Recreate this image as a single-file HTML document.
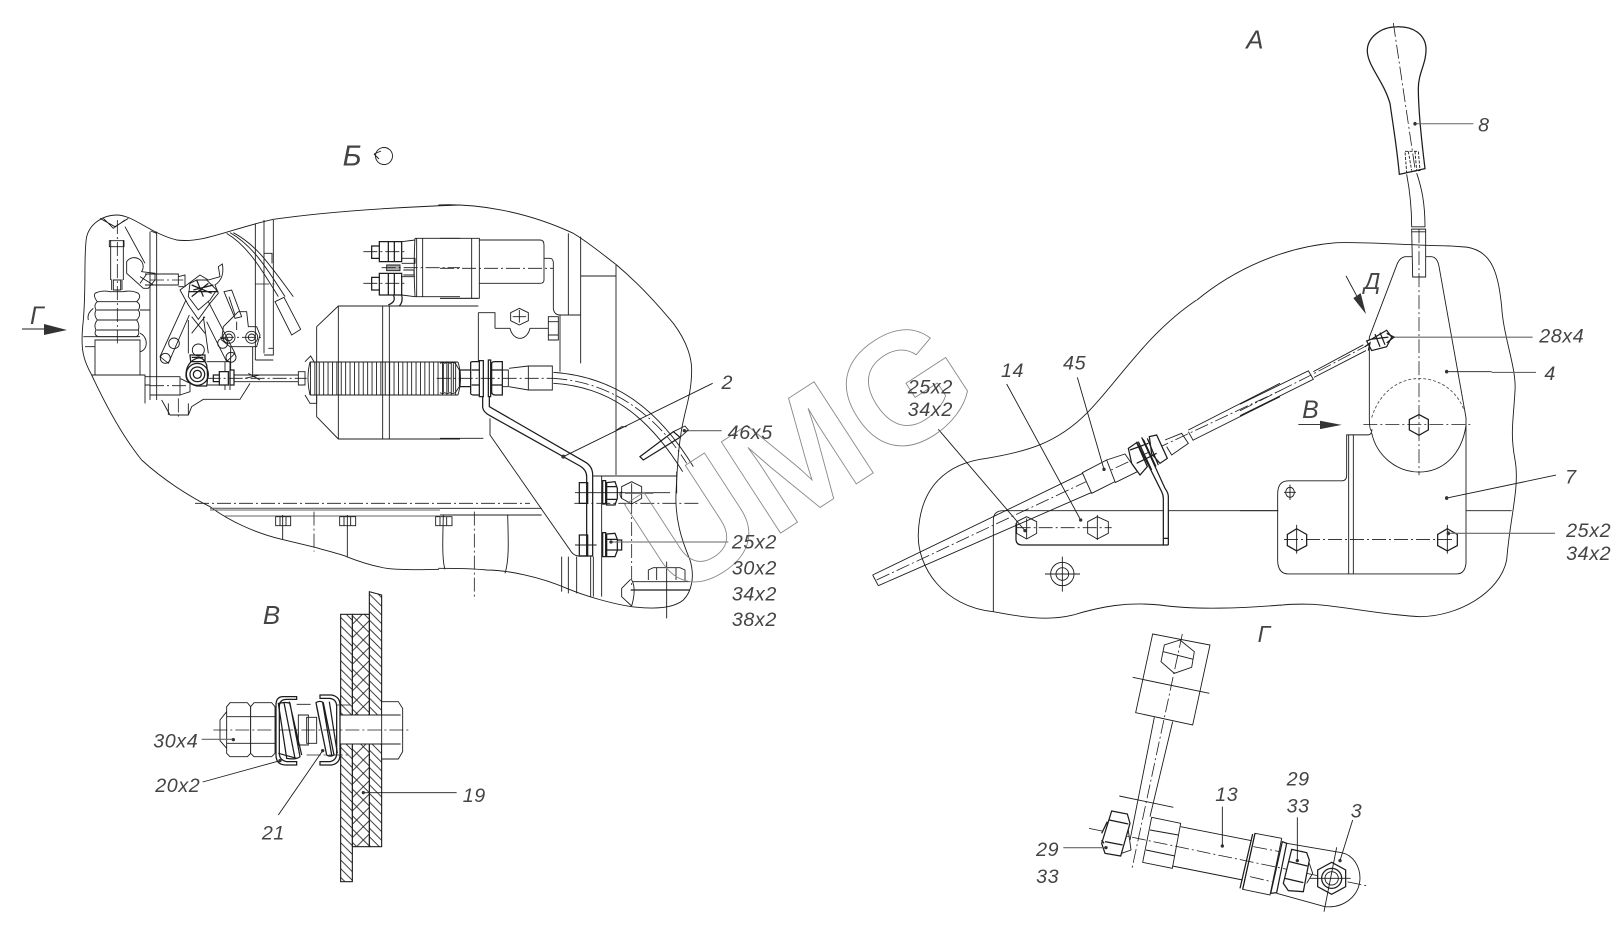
<!DOCTYPE html>
<html><head><meta charset="utf-8"><style>
html,body{margin:0;padding:0;background:#fff}
svg{display:block}
.z *{vector-effect:non-scaling-stroke}
.z{fill:none;stroke:#1c1c1c;stroke-width:.9}
.w{fill:#fff}
.d{stroke-dasharray:14 3 2 3;stroke-width:.8}
.g{stroke:#666;stroke-width:1.1}
.t{stroke-width:1.25}
.dot{fill:#333;stroke:none}
text{font-family:"Liberation Sans",sans-serif;font-style:italic;fill:#444;font-size:19px;letter-spacing:.6px}
.wm{font-family:"Liberation Sans",sans-serif;font-style:normal;font-weight:bold;font-size:158px;fill:none;stroke:#888;stroke-width:.9;letter-spacing:0}
</style></head><body>
<svg width="1623" height="930" viewBox="0 0 1623 930" xmlns="http://www.w3.org/2000/svg">
<defs>
<pattern id="h1" patternUnits="userSpaceOnUse" width="26" height="26"><path d="M-2,-2L28,28M-28,-2L2,28M24,-2L54,28" stroke="#222" stroke-width="2.6" fill="none"/></pattern>
<pattern id="h2" patternUnits="userSpaceOnUse" width="40" height="40"><path d="M-1,-1L41,41M41,-1L-1,41" stroke="#222" stroke-width="2.6" fill="none"/></pattern>
</defs>

<!-- LEFT VIEW, left part -->
<g class="z" transform="translate(60,120) scale(.33333)">
<path d="M245,1020C180,940 130,840 95,765C70,720 62,690 68,620C80,520 70,400 80,350C90,310 130,285 170,285C220,285 270,340 350,360C430,370 500,330 640,298C800,275 1000,262 1200,255"/>
<path d="M270,335V840M290,335V840M272,333L290,340M586,310V720M612,300V700M640,300V700M586,720H640M612,400H636V430M625,685H640V705H612"/>
<path d="M120,295L165,320L205,295M130,295L160,325L195,300M195,320L255,430"/>
<path d="M152,360V480M190,360V480M148,362H192V380H148ZM155,478V510M186,478V510M160,480H182V510H160Z"/>
<path class="d" d="M172,300V670"/>
<path d="M105,520Q125,510 150,515H190Q215,510 235,520Q245,530 230,545Q245,555 235,570Q245,585 230,600Q240,615 235,630Q240,645 228,650H115Q100,645 108,630Q100,615 112,600Q100,585 108,570Q100,555 112,545Q100,530 105,520Z"/>
<path d="M112,545H230M110,570H235M112,600H230M110,630H235M105,650H240"/>
<path d="M105,660H240V765H105ZM240,640C265,650 265,690 240,695M100,565Q80,580 85,600M70,650H105M75,680H105M240,570H270"/>
<path d="M95,765H255V850M255,770H360V825H270M360,775L390,790V815L360,825M255,795H270M255,805V820M305,840L330,885H385L395,860L430,838H540L570,790"/>
<path d="M325,885V850M385,885V850"/>
<path class="d" d="M355,835V890M270,797H380M270,480H370"/>
<path d="M200,425A24,24 0 1 1 245,455L285,460V480L265,505H250L200,460ZM240,470L280,495M260,462L240,490"/>
<path d="M255,462H355V495H255M355,470L375,465V500H355"/>
<path d="M500,340C560,375 600,440 655,530M510,338C575,375 615,435 675,530M520,338C590,375 630,435 700,530"/>
<path class="w" d="M645,545L672,532L722,628L695,645Z"/>
<path class="d" d="M586,492H650"/>
<path d="M360,510L420,465L445,480L480,470L475,440L487,432Q495,475 465,495L475,520L450,550L415,598L385,555Z"/>
<path d="M390,490L410,480H440L470,510L450,540L415,570L385,530Z"/>
<path d="M395,495L455,520M400,510L460,495M410,480L430,530M385,515L475,515M395,530L445,490" class="t"/>
<path d="M378,540L300,710L325,730L388,585M445,545L525,700L500,725L440,605"/>
<path d="M385,600V700M430,590L445,700M395,590L435,640M435,590L395,640"/>
<circle cx="342" cy="670" r="16"/><circle cx="316" cy="715" r="15"/><circle cx="513" cy="712" r="15"/><circle cx="488" cy="670" r="15"/><circle cx="415" cy="690" r="18"/>
<path d="M492,515L515,510L545,590L525,595ZM507,530L525,585"/>
<path d="M490,620L510,600L535,575H560L565,620H590L600,645L590,680H510L485,660ZM530,605V630"/>
<circle cx="507" cy="652" r="18"/><circle cx="507" cy="652" r="10"/><circle cx="575" cy="652" r="18"/><circle cx="575" cy="652" r="10"/>
<path class="d" d="M480,652H610"/>
<path d="M512,680V770M578,680V770M565,760L600,780M555,775L600,765"/>
<path class="w t" d="M400,720Q378,735 378,765Q378,790 410,798H440Q445,770 440,735Q430,708 410,715Z"/>
<circle cx="412" cy="763" r="33" class="t"/><circle cx="412" cy="763" r="22" class="t"/><circle cx="412" cy="763" r="12" class="t"/>
<path d="M390,705H435V725H392ZM395,712H430" class="t"/>
<path d="M440,725H510V810M495,725V810M440,795H490"/>
<path class="w t" d="M460,765H478V785H460ZM478,755H505V795H478ZM510,750H522V795H510Z"/>
<path d="M522,765H715M522,785H715M715,755H735V795H715Z"/>
<path class="d" d="M440,775H740"/>
<path d="M735,725L752,708L762,725M735,825L750,850H770V825"/>
<path d="M770,620L835,558H1200M770,620V890L835,957H1200M835,558V957M968,558V957M988,558V957"/>
<path class="t" d="M1000,525Q1010,545 985,555M1025,525Q1030,545 1018,558"/>
<path d="M1065,355H1200M1065,530H1200M1070,355V530M1088,355V530M1065,355Q1060,440 1065,530"/>
<path class="t" d="M958,365H1025V425H958ZM935,378H958V415H935ZM985,365V425M1003,365V425M958,460H1025V525H958ZM935,472H958V510H935ZM985,460V525M1003,460V525"/>
<path d="M1025,365L1065,360M1025,525L1065,530M1025,415H1065V430H1025M1025,470H1065M1030,450H1062V465H1030"/>
<path class="w" style="fill:#aaa" d="M980,435H1020V452H980Z"/>
<path class="d" d="M965,443H1200M910,395H1035M910,490H1035"/>
</g>
<!-- Spring -->
<g class="z">
<path d="M310,378H458" style="stroke-width:33;stroke-dasharray:.9 3.5;stroke:#222"/>
<path d="M310,362H458M310,395H458M310,362Q306,378 310,395M458,362Q463,378 458,395"/>
</g>

<!-- LEFT VIEW, right part -->
<g class="z" transform="translate(440,200) scale(.33333)">
<path d="M-5,15C100,10 250,30 400,100C450,130 490,165 530,195C600,255 650,310 700,370C745,430 755,480 755,510C755,560 745,600 735,640C715,720 712,800 708,880C705,960 725,1020 750,1080C765,1130 755,1175 730,1200C700,1225 640,1228 575,1220C520,1212 440,1190 380,1165C300,1130 200,1110 140,1110C90,1105 30,1105 -5,1105"/>
<path d="M0,115H95V295H0M95,115H118V295H95M118,120H300Q312,120 312,135V240Q312,250 300,250H118"/>
<path class="d" d="M0,205H340"/>
<path d="M312,175H330Q340,175 340,190V325Q342,345 360,345V515M360,345H422M385,100V345M422,110V490M422,228H527M528,195V825M0,295H115M0,318H115M115,338H165V385M115,338V485M165,385H210C220,425 260,425 270,385H325M0,715H130"/>
<path d="M238,325L265,338V362L238,375L212,362V338ZM238,330V368M218,350H258"/>
<path d="M325,350H355V420H325ZM325,365H355M325,405H355"/>
<path class="t" d="M60,510H92V560H60ZM92,490Q90,485 100,485H118V585H100Q90,585 92,575ZM95,510H118M95,555H118M118,482H130V590H118ZM145,480H152V590H145ZM155,490Q155,485 165,485H187V585H165Q155,585 155,575ZM155,510H187M155,555H187"/>
<path d="M187,510H205V560H187M207,505L265,498H337V570H265L207,560M265,498V570"/>
<path d="M0,490Q8,485 14,490Q22,485 30,490Q38,485 46,490L58,510V560L46,578Q38,583 30,578Q22,583 14,578Q8,583 0,578"/>
<path d="M10,490V578M25,490V578M40,490V578"/>
<path class="d" d="M-10,535H340"/>
<path d="M340,517C520,530 650,620 760,800M340,550C500,560 620,640 728,815"/>
<path class="d" d="M340,535C500,545 640,630 740,790"/>
<path class="t" d="M128,590V622Q130,637 150,647L420,798Q440,810 440,830V1068H415M148,590V620L437,787Q458,800 458,825V1068H440"/>
<path d="M150,655V705L390,1050Q400,1067 415,1068"/>
<path d="M370,770L818,550M530,690L545,680H560"/>
<circle class="dot" cx="370" cy="770" r="6"/>
<path class="g" d="M735,692H845"/>
<circle class="dot" cx="733" cy="692" r="5"/>
<path class="t" d="M600,770L700,695L720,712L610,780Z"/>
<path d="M700,695L735,678L745,690L720,712"/>
<path d="M460,828H710M485,828V1190M710,815V880M0,925H305M0,945H305"/>
<path class="d" d="M403,910H780M575,900V1160"/>
<path class="t" d="M418,848H443V910H418ZM488,842H497V912H488ZM500,848L525,845L532,865V895L525,915H500ZM500,860H530M500,898H530"/>
<path d="M575,845L605,860V895L575,912L545,895V860ZM405,878H690M575,850V910M545,875Q535,880 545,895"/>
<path class="t" d="M418,1005H443V1068H418ZM488,998H497V1070H488ZM500,1002L525,1000L532,1018V1052L525,1070H500ZM500,1018H530M500,1050H530M532,1020H545V1050H532"/>
<path d="M405,1035H470"/>
<path class="g" d="M510,1026H865"/>
<circle class="dot" cx="513" cy="1026" r="5"/>
<path d="M365,1070V1175M385,1070V1180M410,1070V1180M452,1070V1190M460,1070V1190"/>
<path d="M625,1140V1110L640,1103H720L735,1110V1140M650,1103V1140M708,1103V1140M680,1085V1255"/>
<path d="M572,1138L545,1165V1190L575,1218M578,1145H750"/>
<path class="t" d="M572,1170H750"/>
<path d="M575,1140Q590,1165 575,1218"/>
<path d="M640,880L555,880" class="g"/>
</g>

<!-- Lower band of left view -->
<g class="z" transform="translate(130,440) scale(.33333)">
<path d="M35,60C100,120 180,170 240,200C300,245 380,280 455,298L555,322C600,335 640,345 650,350C700,370 740,380 770,385C810,390 860,390 927,388"/>
<path class="d" d="M195,190H1200"/>
<path class="g" d="M240,205H930M240,210H930M285,228H930"/>
<path d="M437,230H482V257H437ZM450,230V257M468,230V257M629,230H677V257H629ZM642,230V257M662,230V257M917,230H966V257H917ZM930,230V257M950,230V257"/>
<path d="M458,225V298M652,225V350M940,225C938,300 936,360 945,388M1133,225C1135,300 1138,360 1125,400"/>
<path class="d" d="M552,215V335M1033,215V474"/>
</g>

<!-- Section В -->
<g class="z" transform="translate(130,580) scale(.33333)">
<path style="fill:url(#h1)" d="M632,103H667V905H632Z"/>
<path style="fill:url(#h2)" d="M667,103H718V800H667Z"/>
<path style="fill:url(#h1)" d="M718,35L755,45V800H718Z"/>
<path d="M632,103H718V35L755,45V800H667V905H632Z M667,103V800M718,103V800"/>
<path class="w" d="M625,405H757V492H625Z"/>
<path class="w" d="M755,365H805L818,385V515L805,537H755ZM755,405H812M755,492H812"/>
<path class="w" d="M505,405H535V495H505ZM530,412H560V490H530Z"/>
<path class="w" d="M290,380L300,368H352L362,380V520L352,530H300L290,520ZM290,410H362M290,490H362"/>
<path class="w" d="M362,380L372,368H425L435,380V520L425,530H372L362,520ZM362,410H435M362,490H435"/>
<path d="M290,395L270,420V482L290,505"/>
<path class="w t" d="M500,350H460Q438,350 438,375V525Q438,555 468,555H500V545H470Q448,540 448,520V380Q448,358 470,358H500Z"/>
<path class="t" d="M445,370Q470,365 480,370L510,530Q500,540 470,535ZM462,368L495,535M478,365L515,525M445,520L500,535"/>
<path class="w t" d="M570,345H605Q630,350 630,375V525Q630,550 605,555H570V545H600Q620,540 620,520V380Q620,358 600,355H570Z"/>
<path class="t" d="M558,368Q570,360 580,368L612,525Q600,532 590,525ZM578,368L605,525M598,365L622,520M560,380L590,525"/>
<path class="d" d="M250,450H840M500,373H550M530,525H660M620,375H660"/>
<path class="g" d="M215,478H310"/>
<circle class="dot" cx="310" cy="479" r="5"/>
<path d="M218,606L450,542M445,705L578,512"/>
<circle class="dot" cx="450" cy="542" r="5"/><circle class="dot" cx="578" cy="512" r="5"/>
<path d="M700,638H980"/><circle class="dot" cx="700" cy="638" r="5"/>
</g>

<!-- View Г -->
<g class="z" transform="translate(1020,610) scale(.33333)">
<path d="M398,72L570,105L518,345L347,308Z"/>
<path d="M480,90L523,125L515,172L463,190L423,155L433,105ZM430,125L520,148"/>
<path class="d" d="M487,72L335,780"/>
<path d="M338,202L568,250M403,322L330,690M458,335L390,620M298,558L460,592"/>
<path class="d" d="M207,655L1043,828"/>
<path d="M395,622L482,640L457,775L368,757ZM390,660L475,675M378,720L465,738"/>
<path d="M482,650L695,692M457,768L668,810"/>
<path d="M320,625L333,720L305,730"/>
<path class="w t" d="M275,603L322,612L330,640L302,738L255,730L245,700ZM268,630L325,642M255,695L308,705M245,670L262,635M245,690L252,700"/>
<path class="t" d="M705,670L668,838M698,672L660,835"/>
<path d="M705,670L785,685L750,855L668,838Z"/>
<path class="t" d="M787,695L800,700L770,848L752,850Z"/>
<path d="M800,700L965,728C1000,735 1020,770 1020,805C1018,860 970,895 915,890L770,850"/>
<path class="d" d="M700,710L780,725M690,800L755,815"/>
<path class="w t" d="M815,718L860,728L868,750L850,845L805,842L790,820ZM808,755L862,768M795,805L850,818"/>
<path d="M868,760L878,790L860,820"/>
<path class="w t" d="M935,757L977,780V830L935,853L893,830V780Z"/>
<circle class="t" cx="935" cy="805" r="30"/><circle cx="935" cy="805" r="20"/>
<path d="M870,805H992M950,712L912,905"/>
<path class="g" d="M130,713H255"/>
<circle class="dot" cx="258" cy="713" r="5"/><circle class="dot" cx="607" cy="708" r="5"/><circle class="dot" cx="832" cy="752" r="5"/><circle class="dot" cx="960" cy="752" r="5"/>
<path d="M607,590V708M832,622V752M998,630L960,752"/>
</g>

<!-- Right figure, lower left -->
<g class="z" transform="translate(860,300) scale(.33333)">
<path d="M400,935C250,920 170,800 175,700C180,560 260,490 380,475C500,455 590,430 680,340C770,250 860,100 1010,0"/>
<path d="M400,935C480,950 560,965 640,945C720,920 800,905 900,915C1000,930 1150,925 1262,915"/>
<path d="M400,935V660Q400,632 430,632H910M925,632H1255"/>
<path class="t" d="M468,670V720Q470,735 485,735H925"/>
<path d="M38,825L668,520M55,857L693,578M38,825L55,857"/>
<path class="d" d="M50,840L1260,272"/>
<path class="w" d="M667,518L740,480L765,545L695,580Z"/>
<path d="M740,480L795,462L832,515L765,548"/>
<path class="w t" d="M805,445L830,428L862,500L840,525L815,490Z"/>
<path class="w t" d="M868,410L890,405L922,475L900,490L875,462Z"/>
<path class="t" d="M835,425L875,510M850,418L888,500M862,415L895,495M810,450L865,430M830,490L890,460"/>
<path class="t" d="M845,412L915,565Q925,578 925,590V735M830,425L905,575Q910,585 910,595V735M910,715H925"/>
<path d="M915,420L965,400L985,430L935,465L920,440M985,395L1000,422M985,390L1260,250M1000,420L1260,290"/>
<path d="M500,650L530,665V700L500,717L470,700V665Z"/>
<path d="M712,650L745,665V700L712,717L683,700V665Z"/>
<path d="M500,655V715M712,645V720"/>
<path class="d" d="M470,683H755"/>
<circle cx="607" cy="822" r="35"/><circle cx="607" cy="822" r="19"/>
<path d="M555,822H660M607,770V875"/>
<path d="M235,388L495,692M440,252L662,660M652,232L732,508"/>
<circle class="dot" cx="495" cy="692" r="5"/><circle class="dot" cx="662" cy="660" r="5"/><circle class="dot" cx="732" cy="508" r="5"/>
</g>
<!-- Right figure outline closures -->
<g class="z" transform="translate(1240,560) scale(.33333)">
<path d="M120,136C150,132 190,132 220,133C320,140 430,165 540,170C650,170 780,100 800,0"/>
</g>
<g class="z" transform="translate(1150,230) scale(.33333)">
<path d="M141,210C250,120 400,50 560,38C650,35 750,45 900,48"/>
</g>
<!-- Right figure, lever -->
<g class="z" transform="translate(1240,0) scale(.33333,.38314)">
<path d="M630,642L680,645C760,655 775,720 785,800C790,880 830,960 825,1020C820,1100 810,1130 825,1200C840,1270 810,1350 800,1462"/>
<path class="t" d="M470,70C420,70 380,100 382,135C385,175 430,210 450,270C458,320 470,380 478,455L555,440C545,370 535,290 535,230C535,190 560,165 558,125C555,90 520,68 470,70Z"/>
<path class="d" d="M460,60L525,440"/>
<path d="M495,395H535L540,445L500,450ZM505,395L515,445M525,395L530,445" style="stroke-dasharray:3 1.5"/>
<path d="M500,455C510,500 515,540 515,592H555C555,530 545,490 530,452"/>
<path d="M515,598H557V723H518ZM515,605H557"/>
<path class="d" d="M537,598V1240"/>
<path d="M517,670H495Q480,672 472,688L388,880V1090Q388,1125 396,1125M557,670H575Q592,672 597,695L678,1090V1470Q675,1498 650,1498H145Q115,1498 113,1465V1290Q113,1255 145,1255H305Q320,1255 320,1240V1135H385Q395,1135 396,1120"/>
<path d="M395,1130C410,1190 470,1232 537,1232C605,1232 665,1190 678,1110"/>
<path d="M395,1090C420,1020 480,988 537,988C600,988 650,1020 672,1070" style="stroke-dasharray:3 2;stroke:#555"/>
<path d="M326,1135V1498M340,1135V1498"/>
<path class="d" d="M370,1108H698M132,1408H640"/>
<path class="t" d="M537,1082L565,1095V1122L537,1136L508,1122V1095ZM170,1380L200,1395V1424L170,1438L142,1424V1395ZM622,1380L652,1395V1424L622,1438L593,1424V1395Z"/>
<path d="M170,1370V1445M622,1370V1445"/>
<path d="M150,1265V1305M132,1285H168"/>
<ellipse cx="150" cy="1285" rx="13" ry="13"/>
<path d="M0,1333H113M678,1333H815"/>
<path class="g" d="M525,323H700M450,880H878M755,972H888"/>
<path d="M620,970H755M620,1300L948,1240"/>
<path class="g" d="M625,1392H945"/>
<circle class="dot" cx="525" cy="323" r="5"/><circle class="dot" cx="620" cy="970" r="5"/><circle class="dot" cx="620" cy="1300" r="5"/><circle class="dot" cx="625" cy="1392" r="5"/>
<path d="M175,1108H245"/>
<path class="dot" d="M240,1098L305,1109L240,1120Z"/>
<path d="M318,720L350,772"/>
<path class="dot" d="M340,778L362,765L378,820Z"/>
<path d="M0,1055L205,968L220,990L0,1085M220,970L370,900M222,985L378,915"/>
<path class="d" d="M0,1072L215,978L385,900"/>
<path class="w t" d="M380,890L395,885L440,862L455,880L440,905L395,915Z"/>
<path class="t" d="M405,872L420,905M420,868L435,900M395,885L445,880M375,905L390,895L385,915M440,870L462,880L440,895"/>
</g>
<!-- Г arrow -->
<g class="z">
<path d="M22,329H50"/>
<path class="dot" d="M44,324L67,330L44,335Z"/>
</g>
<!-- Б arrow symbol -->
<g class="z">
<circle cx="384" cy="156" r="8.5"/>
<path d="M374,154L379,159M374,154L381,151"/>
</g>

<text class="wm" transform="translate(676,601) rotate(-33)">UMG</text>

<g transform="scale(1.0351)">
<text x="1204" y="47" style="font-size:25px">А</text>
<text x="331" y="160" style="font-size:28px">Б</text>
<text x="697" y="376">2</text>
<text x="703" y="424">46x5</text>
<text x="707" y="530">25x2</text>
<text x="707" y="555">30x2</text>
<text x="707" y="580">34x2</text>
<text x="707" y="605">38x2</text>
<text x="254" y="603" style="font-size:25px">В</text>
<text x="148" y="722">30x4</text>
<text x="150" y="765">20x2</text>
<text x="253" y="811">21</text>
<text x="447" y="775">19</text>
<text x="1215" y="620" style="font-size:22px">Г</text>
<text x="29" y="313" style="font-size:24px">Г</text>
<text x="1174" y="774">13</text>
<text x="1243" y="759">29</text>
<text x="1243" y="785">33</text>
<text x="1305" y="790">3</text>
<text x="1001" y="827">29</text>
<text x="1001" y="853">33</text>
<text x="967" y="364">14</text>
<text x="1027" y="357">45</text>
<text x="877" y="380">25x2</text>
<text x="877" y="402">34x2</text>
<text x="1428" y="127">8</text>
<text x="1318" y="279" style="font-size:22px">Д</text>
<text x="1487" y="331">28x4</text>
<text x="1492" y="367">4</text>
<text x="1258" y="404" style="font-size:24px">В</text>
<text x="1512" y="467">7</text>
<text x="1513" y="519">25x2</text>
<text x="1513" y="541">34x2</text>
</g>
</svg>
</body></html>
